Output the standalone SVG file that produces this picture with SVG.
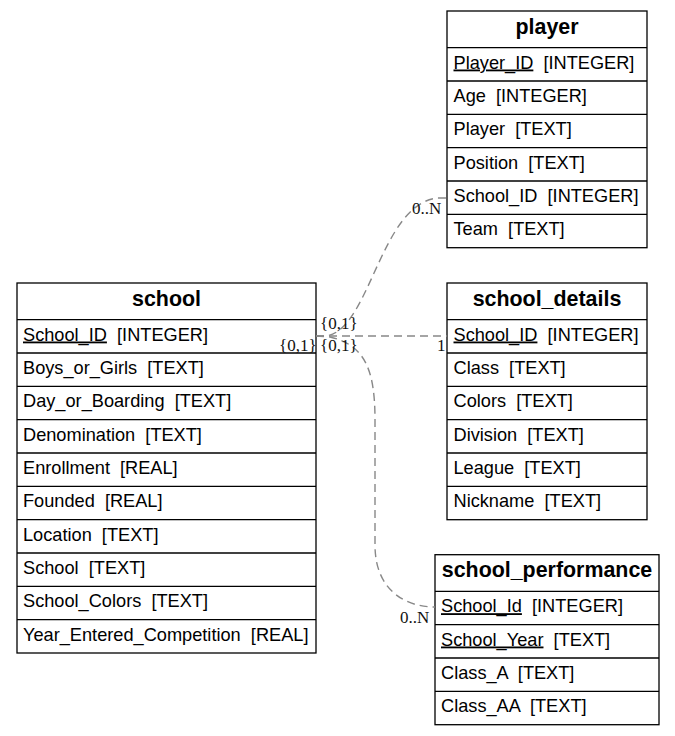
<svg xmlns="http://www.w3.org/2000/svg" width="675" height="736" viewBox="0 0 675 736" xml:space="preserve">
<style>
.box{fill:#fff;stroke:#000;stroke-width:1.3}
.sep{stroke:#000;stroke-width:1.3}
.hd{font-family:"Liberation Sans",Arial,sans-serif;font-size:21.4px;font-weight:bold;text-anchor:middle;fill:#000}
.rw{font-family:"Liberation Sans",Arial,sans-serif;font-size:18.2px;fill:#000;white-space:pre}
.u{text-decoration:underline}
.edge{fill:none;stroke:#888;stroke-width:1.4;stroke-dasharray:8,5}
.lbl{font-family:"Liberation Serif","Times New Roman",serif;font-size:17px;fill:#111}
</style>
<rect width="675" height="736" fill="#fff"/>

<g id="player">
<rect class="box" x="447" y="11" width="200" height="236.7"/>
<line class="sep" x1="447" y1="47.7" x2="647" y2="47.7"/>
<line class="sep" x1="447" y1="81" x2="647" y2="81"/>
<line class="sep" x1="447" y1="114.3" x2="647" y2="114.3"/>
<line class="sep" x1="447" y1="147.7" x2="647" y2="147.7"/>
<line class="sep" x1="447" y1="181" x2="647" y2="181"/>
<line class="sep" x1="447" y1="214.3" x2="647" y2="214.3"/>
<text class="hd" x="547" y="33.5">player</text>
<text class="rw" x="453.5" y="68.5"><tspan class="u">Player_ID</tspan>  [INTEGER]</text>
<text class="rw" x="453.5" y="101.8">Age  [INTEGER]</text>
<text class="rw" x="453.5" y="135.2">Player  [TEXT]</text>
<text class="rw" x="453.5" y="168.5">Position  [TEXT]</text>
<text class="rw" x="453.5" y="201.8">School_ID  [INTEGER]</text>
<text class="rw" x="453.5" y="235.2">Team  [TEXT]</text>
</g>

<g id="school_details">
<rect class="box" x="447" y="283" width="200" height="236.7"/>
<line class="sep" x1="447" y1="319.7" x2="647" y2="319.7"/>
<line class="sep" x1="447" y1="353" x2="647" y2="353"/>
<line class="sep" x1="447" y1="386.3" x2="647" y2="386.3"/>
<line class="sep" x1="447" y1="419.7" x2="647" y2="419.7"/>
<line class="sep" x1="447" y1="453" x2="647" y2="453"/>
<line class="sep" x1="447" y1="486.3" x2="647" y2="486.3"/>
<text class="hd" x="547" y="305.5">school_details</text>
<text class="rw" x="453.5" y="340.5"><tspan class="u">School_ID</tspan>  [INTEGER]</text>
<text class="rw" x="453.5" y="373.8">Class  [TEXT]</text>
<text class="rw" x="453.5" y="407.2">Colors  [TEXT]</text>
<text class="rw" x="453.5" y="440.5">Division  [TEXT]</text>
<text class="rw" x="453.5" y="473.8">League  [TEXT]</text>
<text class="rw" x="453.5" y="507.2">Nickname  [TEXT]</text>
</g>

<g id="school">
<rect class="box" x="17" y="283" width="299" height="370"/>
<line class="sep" x1="17" y1="319.7" x2="316" y2="319.7"/>
<line class="sep" x1="17" y1="353" x2="316" y2="353"/>
<line class="sep" x1="17" y1="386.3" x2="316" y2="386.3"/>
<line class="sep" x1="17" y1="419.7" x2="316" y2="419.7"/>
<line class="sep" x1="17" y1="453" x2="316" y2="453"/>
<line class="sep" x1="17" y1="486.3" x2="316" y2="486.3"/>
<line class="sep" x1="17" y1="519.7" x2="316" y2="519.7"/>
<line class="sep" x1="17" y1="553" x2="316" y2="553"/>
<line class="sep" x1="17" y1="586.3" x2="316" y2="586.3"/>
<line class="sep" x1="17" y1="619.7" x2="316" y2="619.7"/>
<text class="hd" x="166.5" y="305.5">school</text>
<text class="rw" x="23" y="340.5"><tspan class="u">School_ID</tspan>  [INTEGER]</text>
<text class="rw" x="23" y="373.8">Boys_or_Girls  [TEXT]</text>
<text class="rw" x="23" y="407.2">Day_or_Boarding  [TEXT]</text>
<text class="rw" x="23" y="440.5">Denomination  [TEXT]</text>
<text class="rw" x="23" y="473.8">Enrollment  [REAL]</text>
<text class="rw" x="23" y="507.2">Founded  [REAL]</text>
<text class="rw" x="23" y="540.5">Location  [TEXT]</text>
<text class="rw" x="23" y="573.8">School  [TEXT]</text>
<text class="rw" x="23" y="607.2">School_Colors  [TEXT]</text>
<text class="rw" x="23" y="640.5">Year_Entered_Competition  [REAL]</text>
</g>

<g id="school_performance">
<rect class="box" x="435" y="554.7" width="224" height="170"/>
<line class="sep" x1="435" y1="591.4" x2="659" y2="591.4"/>
<line class="sep" x1="435" y1="624.7" x2="659" y2="624.7"/>
<line class="sep" x1="435" y1="658" x2="659" y2="658"/>
<line class="sep" x1="435" y1="691.4" x2="659" y2="691.4"/>
<text class="hd" x="547" y="577.2">school_performance</text>
<text class="rw" x="441" y="612.2"><tspan class="u">School_Id</tspan>  [INTEGER]</text>
<text class="rw" x="441" y="645.5"><tspan class="u">School_Year</tspan>  [TEXT]</text>
<text class="rw" x="441" y="678.9">Class_A  [TEXT]</text>
<text class="rw" x="441" y="712.2">Class_AA  [TEXT]</text>
</g>

<g id="connectors">
<path class="edge" d="M316 336 L326 336 C370 330 380 205 437 198 L447 198"/>
<path class="edge" d="M316 336 L447 336"/>
<path class="edge" d="M316 336 L330 337 C365 345 375 370 375 420 L375 545 C375 590 405 607 435 607"/>
<text class="lbl" x="320" y="329">{0,1}</text>
<text class="lbl" x="320" y="350.5">{0,1}</text>
<text class="lbl" x="279" y="350.5">{0,1}</text>
<text class="lbl" x="412" y="214">0..N</text>
<text class="lbl" x="437" y="351">1</text>
<text class="lbl" x="400" y="623">0..N</text>
</g>
</svg>
